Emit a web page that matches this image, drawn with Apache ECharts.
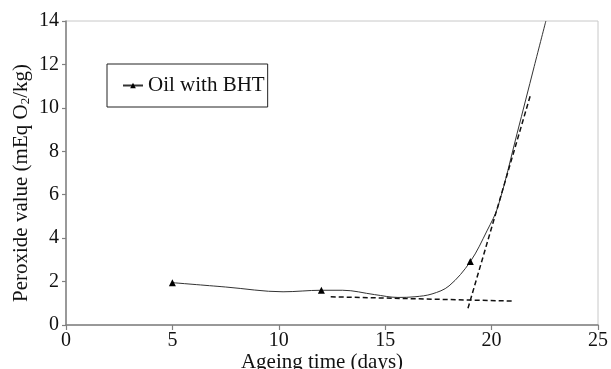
<!DOCTYPE html>
<html>
<head>
<meta charset="utf-8">
<script src="https://cdn.jsdelivr.net/npm/echarts@6/dist/echarts.min.js"></script>
<style>html,body{margin:0;padding:0;background:#fff}#c{width:611px;height:369px}</style>
</head>
<body>
<div id="c"></div>
<script>
// Ageing time (days) and peroxide value (mEq O2/kg)
var curveDays = [5, 7.5, 10.2, 12, 13, 14.5, 15.6, 16.4, 17.2, 18, 19, 19.8, 20.3, 21.2, 22, 22.55];
var curvePV   = [1.95, 1.75, 1.53, 1.6, 1.6, 1.4, 1.27, 1.3, 1.43, 1.8, 2.92, 4.37, 5.45, 8.83, 11.9, 14];
// measured points (triangle markers)
var markerDays = [5, 12, 19];
// tangent lines (dashed)
var baseLineDays = [12.44, 21.07];
var baseLinePV = [1.30, 1.10];
var riseLineDays = [18.89, 21.84];
var riseLinePV = [0.77, 10.64];
var xTicks = [0, 5, 10, 15, 20, 25];
var yTicks = [0, 2, 4, 6, 8, 10, 12, 14];

var serif = '"Liberation Serif","DejaVu Serif",serif';
var mainData = curveDays.map(function (d, i) {
  var isMarker = markerDays.indexOf(d) >= 0;
  return isMarker ? [d, curvePV[i]] : { value: [d, curvePV[i]], symbol: 'none' };
});
function pairs(xs, ys) { return xs.map(function (x, i) { return [x, ys[i]]; }); }

var chart = echarts.init(document.getElementById('c'));
chart.setOption({
  animation: false,
  backgroundColor: '#fff',
  grid: { left: 66, top: 21, right: 9, bottom: 44, show: true, borderColor: '#c8c8c8', borderWidth: 1 },
  legend: {
    data: ['Oil with BHT'],
    left: 107, top: 64,
    orient: 'vertical',
    padding: [11, 3, 11, 15],
    borderColor: '#222', borderWidth: 1,
    itemWidth: 20, itemHeight: 7,
    textStyle: { fontFamily: serif, fontSize: 21, color: '#111' }
  },
  xAxis: {
    type: 'value', min: xTicks[0], max: xTicks[xTicks.length - 1], interval: 5,
    axisLine: { lineStyle: { color: '#808080', width: 1.5 } },
    axisTick: { show: true, length: 5, lineStyle: { color: '#808080', width: 1.2 } },
    axisLabel: { fontFamily: serif, fontSize: 20, color: '#111', margin: 6 },
    splitLine: { show: false }
  },
  yAxis: {
    type: 'value', min: yTicks[0], max: yTicks[yTicks.length - 1], interval: 2,
    axisLine: { show: true, lineStyle: { color: '#808080', width: 1.5 } },
    axisTick: { show: true, length: 4, lineStyle: { color: '#808080', width: 1.2 } },
    axisLabel: { fontFamily: serif, fontSize: 20, color: '#111', margin: 7 },
    splitLine: { show: false }
  },
  graphic: [
    {
      type: 'text', x: 21, y: 183, rotation: Math.PI / 2,
      style: {
        text: '{a|Peroxide value (mEq O}{s|2}{a|/kg)}',
        align: 'center', verticalAlign: 'middle',
        rich: {
          a: { fontFamily: serif, fontSize: 21, fill: '#111' },
          s: { fontFamily: serif, fontSize: 13, fill: '#111', padding: [10, 0, 0, 0] }
        }
      }
    },
    {
      type: 'text', x: 322, y: 362,
      style: { text: 'Ageing time (days)', align: 'center', verticalAlign: 'middle',
        fontFamily: serif, fontSize: 21, fill: '#111' }
    }
  ],
  series: [
    {
      name: 'Oil with BHT', type: 'line', data: mainData, smooth: 0.35,
      symbol: 'triangle', symbolSize: 7, showAllSymbol: true,
      lineStyle: { color: '#333', width: 1 },
      itemStyle: { color: '#000' },
      z: 3
    },
    {
      name: 'base', type: 'line', data: pairs(baseLineDays, baseLinePV), symbol: 'none',
      lineStyle: { color: '#111', width: 1.5, type: [5, 3] }
    },
    {
      name: 'rise', type: 'line', data: pairs(riseLineDays, riseLinePV), symbol: 'none',
      lineStyle: { color: '#111', width: 1.5, type: [5, 3] }
    }
  ]
});
</script>
</body>
</html>
